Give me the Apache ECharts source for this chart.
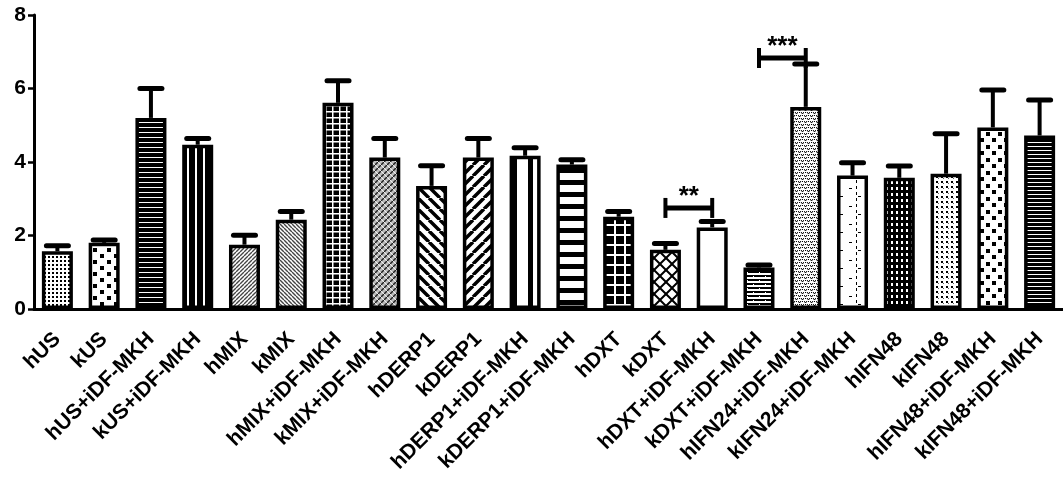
<!DOCTYPE html>
<html>
<head>
<meta charset="utf-8">
<script src="https://cdn.jsdelivr.net/npm/echarts@6/dist/echarts.min.js"></script>
<style>
  html, body { margin: 0; padding: 0; background: #fff; }
  #chart { width: 1063px; height: 481px; }
</style>
</head>
<body>
<div id="chart"></div>
<script>
// groups on the x axis
const groups = ['hUS', 'kUS', 'hUS+iDF-MKH', 'kUS+iDF-MKH', 'hMIX', 'kMIX',
  'hMIX+iDF-MKH', 'kMIX+iDF-MKH', 'hDERP1', 'kDERP1', 'hDERP1+iDF-MKH',
  'kDERP1+iDF-MKH', 'hDXT', 'kDXT', 'hDXT+iDF-MKH', 'kDXT+iDF-MKH',
  'hIFN24+iDF-MKH', 'kIFN24+iDF-MKH', 'hIFN48', 'kIFN48', 'hIFN48+iDF-MKH', 'kIFN48+iDF-MKH'];
// bar heights (mean) and upper error (SEM)
const means = [1.57, 1.80, 5.20, 4.47, 1.75, 2.43, 5.61, 4.12, 3.35, 4.12, 4.17,
  3.93, 2.51, 1.61, 2.22, 1.13, 5.50, 3.63, 3.57, 3.68, 4.94, 4.72];
const sems = [0.15, 0.08, 0.80, 0.17, 0.26, 0.22, 0.60, 0.52, 0.55, 0.52, 0.22,
  0.13, 0.14, 0.17, 0.16, 0.07, 1.17, 0.35, 0.32, 1.09, 1.02, 0.97];
const yTicks = [0, 2, 4, 6, 8];
// significance: [from index, to index, height, stars]
const sigPairs = [[13, 14, 2.75, '**'], [15, 16, 6.83, '***']];

// fill patterns, one per bar
function pat(w, h, bg, draw) {
  const c = document.createElement('canvas');
  c.width = w; c.height = h;
  const g = c.getContext('2d');
  g.fillStyle = bg; g.fillRect(0, 0, w, h);
  g.fillStyle = '#000'; g.strokeStyle = '#000';
  draw(g, w, h);
  return { image: c, repeat: 'repeat' };
}
function diag(g, w, h, dir, lw, col) {
  g.strokeStyle = col; g.lineWidth = lw; g.beginPath();
  for (let k = -1; k <= 1; k++) {
    if (dir > 0) { g.moveTo(k * w, h); g.lineTo(k * w + w, 0); }
    else { g.moveTo(k * w, 0); g.lineTo(k * w + w, h); }
  }
  g.stroke();
}
const fills = [
  pat(4, 4, '#fff', g => g.fillRect(0, 0, 2, 2)),
  pat(14, 12, '#fff', g => { g.fillRect(2, 2, 4, 4); g.fillRect(9, 8, 4, 4); }),
  pat(4, 5, '#000', g => { g.fillStyle = '#fff'; g.fillRect(0, 2, 4, 1); }),
  pat(8, 4, '#000', g => { g.fillStyle = '#fff'; g.fillRect(3, 0, 2, 4); }),
  pat(4, 4, '#fff', g => diag(g, 4, 4, 1, 1.4, '#444')),
  pat(4, 4, '#fff', g => diag(g, 4, 4, -1, 1.4, '#444')),
  pat(7, 6, '#000', g => { g.fillStyle = '#fff'; g.fillRect(3, 0, 1.5, 6); g.fillRect(0, 3, 7, 1.5); }),
  pat(6, 6, '#bbb', g => { diag(g, 6, 6, 1, 1.5, '#222'); diag(g, 6, 6, -1, 0.8, '#fff'); }),
  pat(11, 11, '#fff', g => diag(g, 11, 11, -1, 3.5, '#000')),
  pat(11, 11, '#fff', g => diag(g, 11, 11, 1, 3.5, '#000')),
  pat(16, 4, '#fff', g => g.fillRect(0, 0, 5, 4)),
  pat(4, 12, '#fff', g => g.fillRect(0, 0, 4, 5)),
  pat(10, 10, '#000', g => { g.fillStyle = '#fff'; g.fillRect(4, 0, 2, 10); g.fillRect(0, 4, 10, 2); }),
  pat(12, 12, '#fff', g => { diag(g, 12, 12, 1, 2, '#000'); diag(g, 12, 12, -1, 2, '#000'); }),
  pat(4, 4, '#fff', () => {}),
  pat(12, 8, '#000', g => {
    g.fillStyle = '#fff';
    g.fillRect(0, 1, 12, 2); g.fillRect(0, 5, 12, 2);
    g.fillRect(3, 0, 1, 1); g.fillRect(9, 4, 1, 1);
  }),
  pat(6, 6, '#fff', g => {
    g.lineWidth = 1; g.beginPath();
    g.moveTo(0, 1); g.lineTo(1.5, 3); g.lineTo(3, 1);
    g.moveTo(3, 4); g.lineTo(4.5, 6); g.lineTo(6, 4);
    g.stroke(); g.fillRect(4, 1, 1, 1); g.fillRect(1, 4, 1, 1);
  }),
  pat(18, 18, '#fff', g => {
    g.fillRect(10, 0, 1, 3); g.fillRect(10, 6, 1, 3); g.fillRect(10, 12, 1, 3);
    g.fillRect(3, 8, 3, 1); g.fillRect(12, 16, 3, 1);
  }),
  pat(5, 6, '#000', g => { g.fillStyle = '#fff'; g.fillRect(1, 1, 2, 3); }),
  pat(5, 5, '#fff', g => { g.fillRect(1, 1, 2, 2); g.fillStyle = '#666'; g.fillRect(3, 3, 1, 1); }),
  pat(12, 13, '#fff', g => { g.fillRect(2, 2, 4, 4); g.fillRect(8, 8, 4, 4); }),
  pat(4, 4, '#000', g => { g.fillStyle = '#fff'; g.fillRect(0, 2, 4, 1); })
];

const font = 'Liberation Sans';
const chart = echarts.init(document.getElementById('chart'));
chart.setOption({
  animation: false,
  grid: { left: 34, right: -8, top: 15, bottom: 172 },
  xAxis: {
    type: 'category',
    data: groups,
    axisLine: { lineStyle: { color: '#000', width: 3 } },
    axisTick: { alignWithLabel: true, length: 8, lineStyle: { color: '#000', width: 3 } },
    axisLabel: { rotate: 45, margin: 27, interval: 0, color: '#000', fontFamily: font, fontWeight: 'bold', fontSize: 21 }
  },
  yAxis: {
    type: 'value', min: yTicks[0], max: yTicks[yTicks.length - 1], interval: 2,
    axisLine: { show: true, lineStyle: { color: '#000', width: 3 } },
    axisTick: { show: true, length: 6, lineStyle: { color: '#000', width: 2.5 } },
    axisLabel: { margin: 8, color: '#000', fontFamily: font, fontWeight: 'bold', fontSize: 21 },
    splitLine: { show: false }
  },
  series: [
    {
      type: 'bar',
      barWidth: 31,
      data: means.map((v, i) => ({ value: v, itemStyle: { color: fills[i] } })),
      itemStyle: { borderColor: '#000', borderWidth: 3.5 },
      z: 2
    },
    {
      // upward error bars
      type: 'custom',
      data: means.map((v, i) => [i, v, v + sems[i]]),
      encode: { x: 0, y: [1, 2] },
      z: 3,
      renderItem: function (params, api) {
        const p0 = api.coord([api.value(0), api.value(1)]);
        const p1 = api.coord([api.value(0), api.value(2)]);
        return {
          type: 'group',
          children: [
            { type: 'line', shape: { x1: p0[0], y1: p0[1], x2: p1[0], y2: p1[1] }, style: { stroke: '#000', lineWidth: 4 } },
            { type: 'line', shape: { x1: p1[0] - 11, y1: p1[1], x2: p1[0] + 11, y2: p1[1] }, style: { stroke: '#000', lineWidth: 5, lineCap: 'round' } }
          ]
        };
      }
    },
    {
      // significance brackets
      type: 'custom',
      data: sigPairs,
      encode: { x: [0, 1], y: 2 },
      z: 4,
      renderItem: function (params, api) {
        const a = api.coord([api.value(0), api.value(2)]);
        const b = api.coord([api.value(1), api.value(2)]);
        const st = { stroke: '#000', lineWidth: 5 };
        return {
          type: 'group',
          children: [
            { type: 'line', shape: { x1: a[0], y1: a[1], x2: b[0], y2: b[1] }, style: st },
            { type: 'line', shape: { x1: a[0], y1: a[1] - 10, x2: a[0], y2: a[1] + 10 }, style: { stroke: '#000', lineWidth: 4 } },
            { type: 'line', shape: { x1: b[0], y1: b[1] - 10, x2: b[0], y2: b[1] + 10 }, style: { stroke: '#000', lineWidth: 4 } },
            {
              type: 'text',
              style: {
                x: (a[0] + b[0]) / 2, y: a[1] - 11, text: sigPairs[params.dataIndex][3],
                align: 'center', verticalAlign: 'middle', fill: '#000',
                font: 'bold 26px "Liberation Sans"'
              }
            }
          ]
        };
      }
    }
  ]
});
</script>
</body>
</html>
